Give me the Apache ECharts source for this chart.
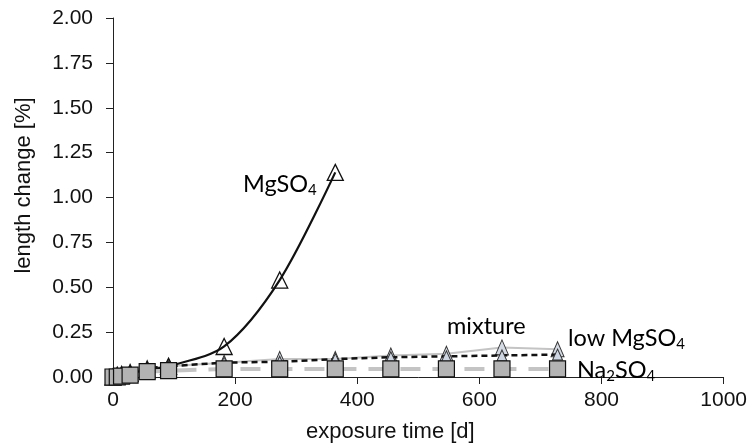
<!DOCTYPE html>
<html><head><meta charset="utf-8">
<script src="https://cdn.jsdelivr.net/npm/echarts@6/dist/echarts.min.js"></script>
<style>html,body{margin:0;padding:0;background:#fff}#c{width:750px;height:448px}</style>
</head><body><div id="c"></div>
<script>
const days = [0, 7, 14, 28, 56, 91, 182, 273, 364, 455, 546, 637, 728];
const mgDays = [0, 7, 14, 28, 56, 91, 182, 273, 364];
const mgSO4 = [0, 0.01, 0.01, 0.02, 0.04, 0.06, 0.17, 0.54, 1.14];
const lowMgSO4 = [0, 0.01, 0.02, 0.03, 0.05, 0.06, 0.08, 0.085, 0.10, 0.11, 0.115, 0.12, 0.125];
const mixture = [0, 0.01, 0.02, 0.03, 0.05, 0.06, 0.08, 0.10, 0.10, 0.12, 0.13, 0.165, 0.155];
const na2SO4 = [0, 0, 0.005, 0.01, 0.03, 0.035, 0.045, 0.045, 0.045, 0.045, 0.045, 0.045, 0.045];
const xTicks = [0, 200, 400, 600, 800, 1000];
const yTicks = [0, 0.25, 0.5, 0.75, 1, 1.25, 1.5, 1.75, 2];

const pair = (xs, ys) => xs.map((x, i) => [x, ys[i]]);
const font = 'Liberation Sans';
const annFont = 'Lato';
const rich = (color) => ({
  a: {fontFamily: annFont, fontSize: 23.5, color: color, lineHeight: 28, verticalAlign: 'middle'},
  s: {fontFamily: annFont, fontSize: 15, color: color, lineHeight: 14, verticalAlign: 'bottom'}
});

const chart = echarts.init(document.getElementById('c'), null, {renderer: 'canvas'});
chart.setOption({
  animation: false,
  backgroundColor: '#fff',
  grid: {left: 113, right: 25, top: 18, bottom: 66, containLabel: false},
  xAxis: {
    type: 'value', min: 0, max: 1000, interval: 200,
    name: 'exposure time [d]', nameLocation: 'middle', nameGap: 44,
    nameTextStyle: {fontFamily: font, fontSize: 22, color: '#111', padding: [0, 56, 0, 0]},
    axisLine: {show: true, lineStyle: {color: '#222', width: 1}},
    axisTick: {show: true, length: 7, lineStyle: {color: '#222'}},
    axisLabel: {fontFamily: font, fontSize: 21, color: '#111', margin: 13,
      formatter: v => xTicks.includes(v) ? String(v) : ''},
    splitLine: {show: false}
  },
  yAxis: {
    type: 'value', min: 0, max: 2, interval: 0.25,
    name: 'length change [%]', nameLocation: 'middle', nameGap: 78,
    nameTextStyle: {fontFamily: font, fontSize: 22, color: '#111', padding: [0, 0, 0, 24]},
    axisLine: {show: true, lineStyle: {color: '#222', width: 1}},
    axisTick: {show: true, length: 7, lineStyle: {color: '#222'}},
    axisLabel: {fontFamily: font, fontSize: 21, color: '#111', margin: 20,
      formatter: v => yTicks.includes(v) ? v.toFixed(2) : ''},
    splitLine: {show: false}
  },
  series: [
    {
      name: 'mixture', type: 'line', data: pair(days, mixture), clip: false,
      lineStyle: {color: '#c4c4c4', width: 2},
      symbol: 'triangle', symbolSize: [13, 15],
      itemStyle: {color: '#d5dbe4', borderColor: '#333', borderWidth: 1}, z: 2
    },
    {
      name: 'low MgSO4', type: 'line', data: pair(days, lowMgSO4), clip: false,
      lineStyle: {color: '#111', width: 2.5, type: [6, 4]},
      symbol: 'triangle', symbolSize: [10, 11],
      itemStyle: {color: '#cdd6e2', borderColor: '#333', borderWidth: 1}, z: 3
    },
    {
      name: 'Na2SO4', type: 'line', data: pair(days, na2SO4), clip: false,
      lineStyle: {color: '#c4c4c4', width: 4, type: [20, 12]},
      symbol: 'rect', symbolSize: 16,
      itemStyle: {color: '#b3b3b3', borderColor: '#111', borderWidth: 1.2}, z: 5
    },
    {
      name: 'MgSO4', type: 'line', data: pair(mgDays, mgSO4), clip: false,
      smooth: 0.3,
      lineStyle: {color: '#111', width: 2.2},
      symbol: 'triangle', symbolSize: [16, 16],
      itemStyle: {color: 'rgba(255,255,255,0)', borderColor: '#111', borderWidth: 1.3}, z: 4
    }
  ],
  graphic: [
    {type: 'text', left: 243, top: 172, z: 10,
      style: {text: '{a|MgSO}{s|4}', rich: rich('#111')}},
    {type: 'text', left: 447, top: 314, z: 10,
      style: {text: '{a|mixture}', rich: rich('#aaaaaa')}},
    {type: 'text', left: 568, top: 326, z: 10,
      style: {text: '{a|low MgSO}{s|4}', rich: rich('#111')}},
    {type: 'text', left: 577, top: 358, z: 10,
      style: {text: '{a|Na}{s|2}{a|SO}{s|4}', rich: rich('#aaaaaa')}}
  ]
});
</script></body></html>
